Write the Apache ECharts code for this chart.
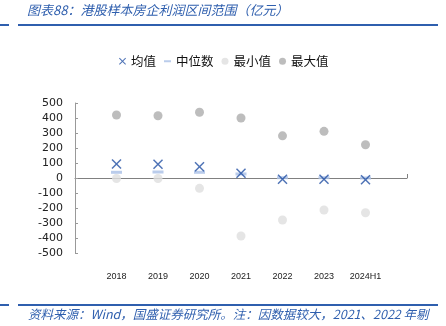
<!DOCTYPE html>
<html>
<head>
<meta charset="utf-8">
<script src="https://cdn.jsdelivr.net/npm/echarts@6/dist/echarts.min.js"></script>
<style>
html,body{margin:0;padding:0;background:#fff;}
#c{width:446px;height:326px;}
</style>
</head>
<body>
<div id="c"></div>
<script>
// Profit range of sample HK-listed developers (100m yuan)
const years = ['2018', '2019', '2020', '2021', '2022', '2023', '2024H1'];
const meanVals = [93, 92, 75, 31, -9, -8, -12];
const medianVals = [38, 40, 38, 27, 2, 2, 0];
const minVals = [-3, -3, -69, -387, -280, -213, -232];
const maxVals = [420, 415, 438, 400, 281, 311, 222];
const yTicks = [-500, 500, 100];   // min, max, interval

const title = '图表88：港股样本房企利润区间范围（亿元）';
const footer = '资料来源：Wind，国盛证券研究所。注：因数据较大，2021、2022 年剔';

// pad an empty slot on each side so the points sit inside the plot frame
const cats = [''].concat(years, ['']);
const pad = arr => [null].concat(arr, [null]);

const crossPath = 'path://M0,1 L1,0 L5,4 L9,0 L10,1 L6,5 L10,9 L9,10 L5,6 L1,10 L0,9 L4,5 Z';
// thin dash centred in a 10x10 box (the corner specks keep the box size)
const dashPath = 'path://M0,0 L0.01,0 L0.01,0.01 Z M0,3.5 L10,3.5 L10,6.5 L0,6.5 Z M9.99,9.99 L10,9.99 L10,10 Z';
const blue = '#2f5fae';

const chart = echarts.init(document.getElementById('c'), null, {renderer: 'canvas'});
chart.setOption({
  animation: false,
  backgroundColor: '#fff',
  grid: {left: 75, right: 39, top: 103, bottom: 73},
  legend: {
    top: 50, left: 114,
    itemWidth: 7, itemHeight: 7, itemGap: 8,
    textStyle: {fontSize: 12.5, color: '#111', fontFamily: 'Noto Sans CJK SC'},
    data: [
      {name: '均值', icon: crossPath},
      {name: '中位数', icon: dashPath},
      {name: '最小值', icon: 'circle'},
      {name: '最大值', icon: 'circle'}
    ]
  },
  xAxis: [{
    type: 'category', data: cats, boundaryGap: false,
    axisLine: {onZero: true, lineStyle: {color: '#808080', width: 1}},
    axisTick: {show: true, inside: true, length: 4, interval: (i) => i === cats.length - 1, lineStyle: {color: '#808080'}},
    axisLabel: {show: false}
  }, {
    type: 'category', data: cats, boundaryGap: false, position: 'bottom',
    axisLine: {show: false, onZero: false}, axisTick: {show: false},
    axisLabel: {show: true, interval: 0, margin: 19, fontSize: 9, color: '#222', fontFamily: 'Liberation Sans Narrow, Arial Narrow, sans-serif'}
  }],
  yAxis: {
    type: 'value', min: yTicks[0], max: yTicks[1], interval: yTicks[2],
    splitLine: {show: false},
    axisLine: {show: true, lineStyle: {color: '#999'}},
    axisTick: {show: true, inside: true, length: 3, lineStyle: {color: '#999'}},
    axisLabel: {fontSize: 11, color: '#222', margin: 12, fontFamily: 'DejaVu Sans'}
  },
  series: [{
    name: '最大值', type: 'scatter', data: pad(maxVals),
    symbol: 'circle', symbolSize: 9, itemStyle: {color: '#acacac'}, z: 2
  }, {
    name: '最小值', type: 'scatter', data: pad(minVals),
    symbol: 'circle', symbolSize: 9, itemStyle: {color: '#dedede'}, z: 2
  }, {
    name: '中位数', type: 'scatter', data: pad(medianVals),
    symbol: 'rect', symbolSize: [11, 3], itemStyle: {color: '#a9bfe6'}, z: 3
  }, {
    name: '均值', type: 'scatter', data: pad(meanVals),
    symbol: crossPath, symbolSize: 10, itemStyle: {color: '#1f4ea3'}, z: 4
  }],
  graphic: [
    {type: 'text', left: 27, top: 4, style: {text: title, fill: blue, font: 'italic 13px "Noto Sans CJK SC"'}},
    {type: 'rect', shape: {x: 0, y: 24, width: 9, height: 2}, style: {fill: blue}},
    {type: 'rect', shape: {x: 18, y: 24, width: 420, height: 2}, style: {fill: blue}},
    {type: 'rect', shape: {x: 0, y: 304, width: 9, height: 2}, style: {fill: blue}},
    {type: 'rect', shape: {x: 18, y: 304, width: 420, height: 2}, style: {fill: blue}},
    {type: 'text', left: 28, top: 308, style: {text: footer, fill: blue, font: 'italic 12.5px "Noto Sans CJK SC"'}}
  ]
});
</script>
</body>
</html>
